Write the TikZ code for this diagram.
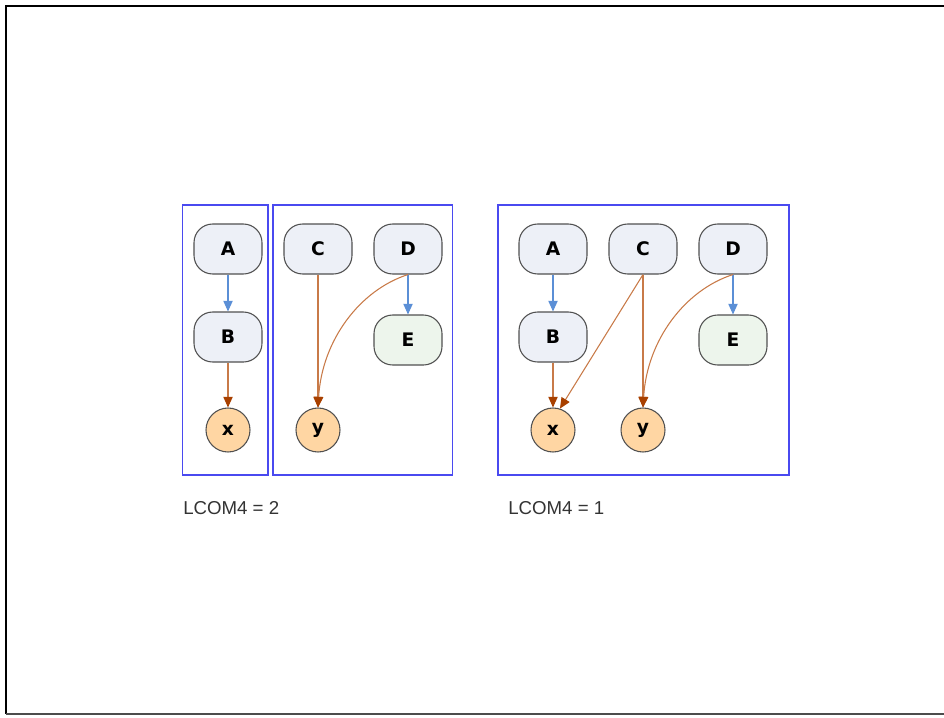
\documentclass[tikz,border=0pt]{standalone}
\usepackage{fontspec}
\setmainfont{Liberation Sans}
\newfontfamily\nodefont{DejaVu Sans}
\usetikzlibrary{arrows.meta}
\definecolor{nodefill}{HTML}{EDF0F7}
\definecolor{leaffill}{HTML}{EDF5EC}
\definecolor{fieldfill}{HTML}{FFD6A3}
\definecolor{nodeline}{HTML}{505050}
\definecolor{callblue}{HTML}{5B8FD6}
\definecolor{usebrown}{HTML}{C87A48}
\definecolor{usehead}{HTML}{A84000}
\definecolor{groupblue}{HTML}{4A4AF0}
\definecolor{captiongray}{HTML}{333333}
\tikzset{
  method/.style={draw=nodeline, line width=0.8pt, fill=nodefill, rounded corners=14pt,
    minimum width=51pt, minimum height=37.5pt, inner sep=0pt,
    font=\nodefont\bfseries\fontsize{14}{16}\selectfont},
  leaf/.style={method, fill=leaffill},
  field/.style={draw=nodeline, line width=0.8pt, fill=fieldfill, circle,
    minimum size=33pt, inner sep=0pt, font=\nodefont\bfseries\fontsize{14}{16}\selectfont},
  calls/.style={draw=callblue, line width=0.8pt,
    -{Triangle[length=8pt,width=7pt,color=callblue]}},
  uses/.style={draw=usebrown, line width=0.8pt,
    -{Triangle[length=8pt,width=7pt,color=usehead]}},
  group/.style={draw=groupblue, line width=0.8pt},
  caption/.style={font=\fontsize{14}{16}\selectfont, text=captiongray, anchor=west, inner sep=0pt}
}
\begin{document}
\begin{tikzpicture}[x=0.75pt, y=-0.75pt]
\useasboundingbox (0,0) rectangle (944,717);
% page frame, open on the right
\draw[black, line width=1.2pt] (944,6) -- (6,6) -- (6,714);
\draw[black!70, line width=1.2pt] (6,714) -- (944,714);

% ---- first class: two components ----
\draw[group] (182.5,205) rectangle (268,475);
\draw[group] (273,205) rectangle (452.5,475);
\node[method] (A1) at (228,249) {A};
\node[method] (B1) at (228,337) {B};
\node[field]  (x1) at (228,430) {x};
\node[method] (C1) at (318,249) {C};
\node[method] (D1) at (408,249) {D};
\node[leaf]   (E1) at (408,340) {E};
\node[field]  (y1) at (318,430) {y};
\draw[calls] (A1) -- (B1);
\draw[calls] (D1) -- (E1);
\draw[uses] (B1) -- (x1);
\draw[uses] (C1) -- (y1);
\draw[uses] (D1.south) .. controls (360,290) and (322,340) .. (y1.north);
\node[caption] (L1) at (183,508) {LCOM4 = 2};

% ---- second class: one component ----
\draw[group] (498,205) rectangle (789,475);
\node[method] (A2) at (553,249) {A};
\node[method] (B2) at (553,337) {B};
\node[field]  (x2) at (553,430) {x};
\node[method] (C2) at (643,249) {C};
\node[method] (D2) at (733,249) {D};
\node[leaf]   (E2) at (733,340) {E};
\node[field]  (y2) at (643,430) {y};
\draw[calls] (A2) -- (B2);
\draw[calls] (D2) -- (E2);
\draw[uses] (B2) -- (x2);
\draw[uses] (C2) -- (y2);
\draw[uses] (C2.south) -- (x2.72);
\draw[uses] (D2.south) .. controls (685,290) and (647,340) .. (y2.north);
\node[caption] (L2) at (508,508) {LCOM4 = 1};
\end{tikzpicture}
\end{document}
